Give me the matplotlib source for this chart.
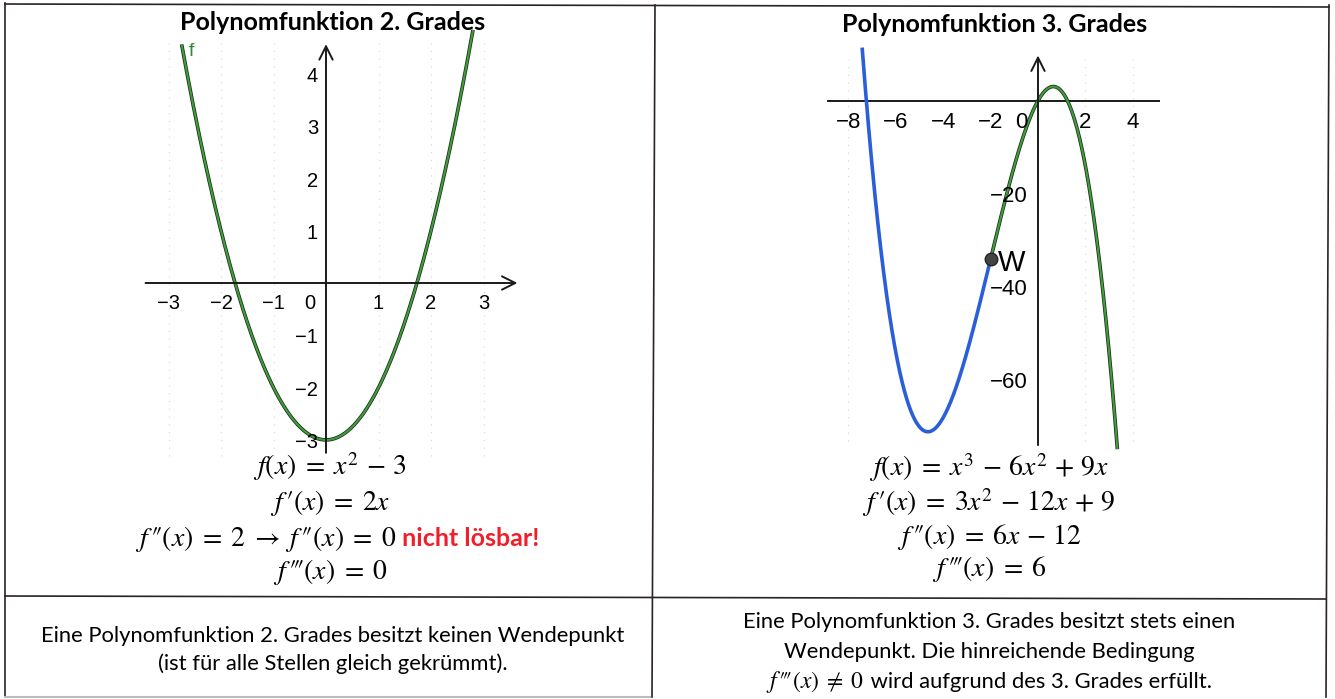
import numpy as np
import matplotlib
matplotlib.use("Agg")
import matplotlib.pyplot as plt

plt.rcParams["mathtext.fontset"] = "stix"

# polynomial coefficients of the drawn graphs (highest power first)
quad_coeffs = [1, 0, -3]
quad_range = [-2.75, 2.8]
cubic_coeffs = [-1, -6, 9, 0]
cubic_blue_range = [-7.42, -2.0]
cubic_green_range = [-2.0, 3.35]
turn_point = [-2.0, -34.0]

left_xticks = [-3, -2, -1, 1, 2, 3]
left_yticks = [-3, -2, -1, 1, 2, 3, 4]
right_xticks = [-8, -6, -4, -2, 2, 4]
right_yticks = [-60, -40, -20]

left_title = "Polynomfunktion 2. Grades"
right_title = "Polynomfunktion 3. Grades"
left_formulas = [r"$f(x)\;=\;x^2\,-\,3$", r"$f\,′(x)\;=\;2x$", None,
                 r"$f\,‴(x)\;=\;0$"]
left_line3_math = r"$f\,″(x)\;=\;2\;\rightarrow\;f\,″(x)\;=\;0$"
left_line3_red = " nicht lösbar!"
right_formulas = [r"$f(x)\;=\;x^3\,-\,6x^2\,+\,9x$",
                  r"$f\,′(x)\;=\;3x^2\,-\,12x\,+\,9$",
                  r"$f\,″(x)\;=\;6x\,-\,12$", r"$f\,‴(x)\;=\;6$"]
left_note = ["Eine Polynomfunktion 2. Grades besitzt keinen Wendepunkt",
             "(ist für alle Stellen gleich gekrümmt)."]
right_note = ["Eine Polynomfunktion 3. Grades besitzt stets einen",
              "Wendepunkt. Die hinreichende Bedingung"]
right_note_math = r"$f\,‴(x)\;\neq\;0$"
right_note_text = " wird aufgrund des 3. Grades erfüllt."

W, H = 1335, 699
fig = plt.figure(figsize=(W / 100, H / 100), dpi=100)
fig.patch.set_facecolor("white")

# table layer in pixel coordinates
tab = fig.add_axes([0, 0, 1, 1])
tab.set_xlim(0, W)
tab.set_ylim(H, 0)
tab.axis("off")
line_kw = dict(color="#2a2228", lw=1.2)
tab.plot([5, 5], [3, 697], **line_kw)
tab.plot([1329, 1326], [5, 697], **line_kw)
tab.plot([5, 1329], [4, 7], **line_kw)
tab.plot([5, 1326], [596, 599], **line_kw)
tab.plot([655, 652], [5, 697], **line_kw)
tab.plot([5, 650], [697, 697], color="#bbbbbb", lw=1.5)

tab.text(333, 22, left_title, ha="center", va="center", fontsize=18,
         fontweight="bold", family="Lato")
tab.text(995, 25, right_title, ha="center", va="center", fontsize=18,
         fontweight="bold", family="Lato")

math_size = 20
left_y = [467, 503, 539, 572]
for txt, y in zip(left_formulas, left_y):
    if txt:
        tab.text(330, y, txt, ha="center", va="center", fontsize=math_size)
right_y = [468, 503, 537, 569]
for txt, y in zip(right_formulas, right_y):
    tab.text(989, y, txt, ha="center", va="center", fontsize=math_size)

renderer = fig.canvas.get_renderer()


def mixed_line(cx, y, math, plain, size, psize, color, weight):
    t1 = tab.text(0, y, math, ha="left", va="center", fontsize=size)
    t2 = tab.text(0, y, plain, ha="left", va="center", fontsize=psize,
                  color=color, fontweight=weight, family="Lato")
    w1 = t1.get_window_extent(renderer).width
    w2 = t2.get_window_extent(renderer).width
    x0 = cx - (w1 + w2) / 2
    t1.set_x(x0)
    t2.set_x(x0 + w1)


mixed_line(337, left_y[2], left_line3_math, left_line3_red, math_size, 18,
           "#f0202a", "bold")

note_size = 15.8
for txt, y in zip(left_note, [636, 664]):
    tab.text(333, y, txt, ha="center", va="center", fontsize=note_size, family="Lato")
for txt, y in zip(right_note, [622, 652]):
    tab.text(989, y, txt, ha="center", va="center", fontsize=note_size, family="Lato")
mixed_line(989, 682, right_note_math, right_note_text, 17, note_size, "black", "normal")


def place_axes(x0_px, y0_px, sx, sy, xlim, ylim):
    left = x0_px + xlim[0] * sx
    right = x0_px + xlim[1] * sx
    top = y0_px - ylim[1] * sy
    bottom = y0_px - ylim[0] * sy
    ax = fig.add_axes([left / W, 1 - bottom / H, (right - left) / W, (bottom - top) / H])
    ax.set_xlim(*xlim)
    ax.set_ylim(*ylim)
    ax.set_facecolor("none")
    ax.axis("off")
    return ax


def draw_curve(ax, coeffs, xr, color):
    xs = np.linspace(xr[0], xr[1], 400)
    ys = np.polyval(coeffs, xs)
    ax.plot(xs, ys, color="#1d2a1d" if color == "green" else color, lw=2.6,
            solid_capstyle="butt")
    if color == "green":
        ax.plot(xs, ys, color="#3f9e3a", lw=1.5, solid_capstyle="butt")


axis_col = "#1a1a1a"
grid_col = "#d8d8d8"
tick_font = "Liberation Sans"

# left graph
axL = place_axes(326, 283, 52.5, 52.3, (-3.6, 3.8), (-3.45, 4.95))
for gx in [-3, -2, -1, 1, 2, 3]:
    axL.plot([gx, gx], [-3.3, 4.6], color=grid_col, lw=0.8, ls=(0, (1, 6)))
axL.annotate("", xy=(3.7, 0), xytext=(-3.49, 0),
             arrowprops=dict(arrowstyle="->", lw=1.4, color=axis_col, mutation_scale=24))
axL.annotate("", xy=(0, 4.62), xytext=(0, -3.3),
             arrowprops=dict(arrowstyle="->", lw=1.4, color=axis_col, mutation_scale=24))
draw_curve(axL, quad_coeffs, quad_range, "green")
axL.text(-2.56, 4.42, "f", color="#2f8a2f", fontsize=14, family=tick_font,
         ha="center", va="center")
for v in left_xticks:
    axL.text(v, -0.39, f"{v}".replace("-", "\u2212"), ha="center", va="center",
             fontsize=14.5, family=tick_font)
axL.text(-0.3, -0.39, "0", ha="center", va="center", fontsize=14.5, family=tick_font)
for v in left_yticks:
    axL.text(-0.15, v - 0.05, f"{v}".replace("-", "\u2212"), ha="right", va="center",
             fontsize=14.5, family=tick_font)

# right graph
axR = place_axes(1038, 100.7, 23.7, 4.66, (-9.2, 5.5), (-76.5, 11.5))
for gx in [-8, 2, 4]:
    axR.plot([gx, gx], [-73, 9], color=grid_col, lw=0.8, ls=(0, (1, 6)))
axR.plot([-8.86, 5.1], [0, 0], color=axis_col, lw=1.4)
axR.annotate("", xy=(0, 10.3), xytext=(0, -74.5),
             arrowprops=dict(arrowstyle="->", lw=1.4, color=axis_col, mutation_scale=24))
draw_curve(axR, cubic_coeffs, cubic_blue_range, "#2b5fd9")
draw_curve(axR, cubic_coeffs, cubic_green_range, "green")
axR.plot(*turn_point, "o", color="#444444", markersize=9, markeredgecolor="#222222", zorder=5)
axR.text(turn_point[0] + 0.3, turn_point[1] - 0.8, "W", ha="left", va="center",
         fontsize=21, family=tick_font)
for v in right_xticks:
    axR.text(v, -4.6, f"{v}".replace("-", "\u2212"), ha="center", va="center",
             fontsize=16, family=tick_font)
axR.text(-0.7, -4.6, "0", ha="center", va="center", fontsize=16, family=tick_font)
for v in right_yticks:
    axR.text(-0.45, v - 0.5, f"{v}".replace("-", "\u2212"), ha="right", va="center",
             fontsize=16, family=tick_font)

fig.savefig("out.png", dpi=100, facecolor="white")
